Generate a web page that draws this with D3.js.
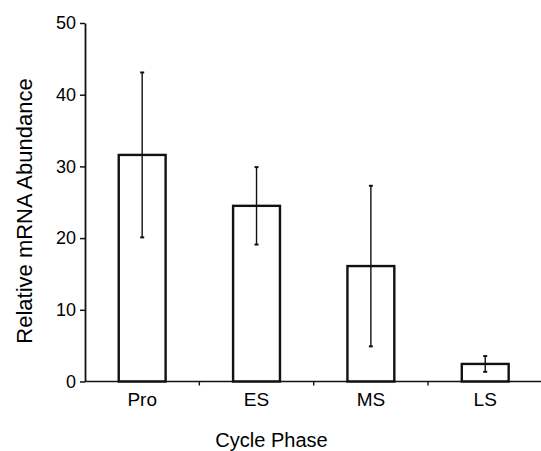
<!DOCTYPE html>
<html>
<head>
<meta charset="utf-8">
<script src="https://cdn.jsdelivr.net/npm/d3@7"></script>
<style>
  body { margin: 0; background: #fff; }
  svg { display: block; }
  text { font-family: "Liberation Sans", Arial, Helvetica, sans-serif; fill: #000; }
</style>
</head>
<body>
<svg id="viz"></svg>
<script>
var width = 541;
var height = 451;

// values
var phases = ["Pro", "ES", "MS", "LS"];
var means = [31.6, 24.5, 16.1, 2.45];
var errors = [11.5, 5.4, 11.2, 1.1];
var yTicks = [0, 10, 20, 30, 40, 50];

var margin = {top: 23, left: 85, bottom: 69};

var svg = d3.select("#viz").attr("width", width).attr("height", height);

var x = d3.scaleBand()
    .domain(phases)
    .range([margin.left, 542.4])
    .paddingInner(0.59)
    .paddingOuter(0.295);

var y = d3.scaleLinear()
    .domain([0, 50])
    .range([height - margin.bottom - 0.5, margin.top]);

var data = phases.map(function(p, i) {
    return {phase: p, mean: means[i], err: errors[i]};
});

// bars
svg.append("g").selectAll("rect")
    .data(data)
    .enter()
    .append("rect")
    .attr("x", function(d) { return x(d.phase); })
    .attr("y", function(d) { return y(d.mean); })
    .attr("width", x.bandwidth())
    .attr("height", function(d) { return y(0) - y(d.mean); })
    .style("fill", "#fff")
    .style("stroke", "#111")
    .style("stroke-width", 2.4);

// error bars
var eb = svg.append("g").selectAll("g")
    .data(data)
    .enter()
    .append("g")
    .attr("transform", function(d) { return "translate(" + (x(d.phase) + x.bandwidth() / 2) + ",0)"; });

eb.append("line")
    .attr("x1", 0).attr("x2", 0)
    .attr("y1", function(d) { return y(d.mean + d.err); })
    .attr("y2", function(d) { return y(d.mean - d.err); })
    .style("stroke", "#111")
    .style("stroke-width", 1.4);

eb.selectAll(".cap")
    .data(function(d) { return [d.mean + d.err, d.mean - d.err]; })
    .enter()
    .append("line")
    .attr("class", "cap")
    .attr("x1", -2).attr("x2", 2)
    .attr("y1", function(v) { return y(v); })
    .attr("y2", function(v) { return y(v); })
    .style("stroke", "#111")
    .style("stroke-width", 2);

// y axis
var yAxis = svg.append("g")
    .attr("transform", "translate(" + margin.left + ",0)")
    .call(d3.axisLeft(y).tickValues(yTicks).tickSize(5).tickSizeOuter(0).tickPadding(4));
yAxis.select(".domain").style("stroke", "#111").style("stroke-width", 1.8);
yAxis.selectAll(".tick line").style("stroke", "#111").style("stroke-width", 1.5);
yAxis.selectAll(".tick text")
    .style("font-size", "18px")
    .style("font-family", "'Liberation Sans', Arial, sans-serif")
    .style("fill", "#000");

// x axis: labels under bars, ticks between categories
var xAxis = svg.append("g")
    .attr("transform", "translate(0," + y(0) + ")")
    .call(d3.axisBottom(x).tickSize(0).tickPadding(11));
xAxis.select(".domain").remove();
xAxis.selectAll(".tick text")
    .style("font-size", "19px")
    .style("font-family", "'Liberation Sans', Arial, sans-serif")
    .style("fill", "#000");

svg.append("line")
    .attr("x1", margin.left).attr("x2", width)
    .attr("y1", y(0)).attr("y2", y(0))
    .style("stroke", "#111")
    .style("stroke-width", 1.6);

svg.append("g").selectAll("line")
    .data(phases)
    .enter()
    .append("line")
    .attr("x1", function(d) { return x(d) + x.bandwidth() / 2 + x.step() / 2; })
    .attr("x2", function(d) { return x(d) + x.bandwidth() / 2 + x.step() / 2; })
    .attr("y1", y(0))
    .attr("y2", y(0) + 4)
    .style("stroke", "#111")
    .style("stroke-width", 1.4);

// axis titles
svg.append("text")
    .attr("x", 271.5)
    .attr("y", 447)
    .attr("text-anchor", "middle")
    .style("font-size", "20px")
    .text("Cycle Phase");

svg.append("text")
    .attr("transform", "translate(32," + 211 + ") rotate(-90)")
    .attr("text-anchor", "middle")
    .style("font-size", "22px")
    .text("Relative mRNA Abundance");
</script>
</body>
</html>
